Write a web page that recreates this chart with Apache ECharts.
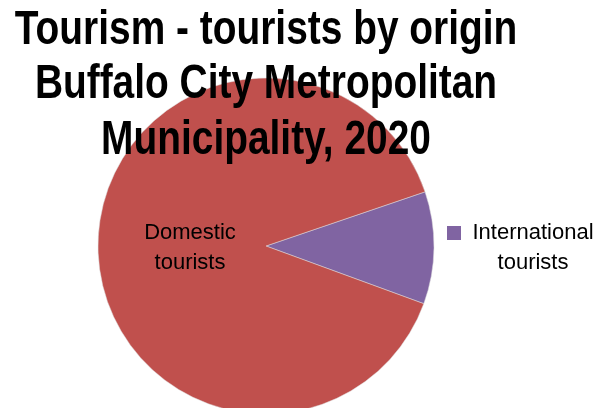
<!DOCTYPE html>
<html><head><meta charset="utf-8">
<script src="https://cdn.jsdelivr.net/npm/echarts@6/dist/echarts.min.js"></script>
<style>html,body{margin:0;padding:0;background:#fff}#c{width:597px;height:408px}</style>
</head><body><div id="c"></div>
<script>
const categories = ['International tourists', 'Domestic tourists'];
const values = [10.8, 89.2];
const colors = ['#8064A2', '#C0504D'];
const titleLines = ['Tourism - tourists by origin', 'Buffalo City Metropolitan', 'Municipality, 2020'];

const chart = echarts.init(document.getElementById('c'), null, {renderer: 'canvas'});
const font = '"Liberation Sans", Arial, sans-serif';
const titleY = [30.8, 85, 140.3];
chart.setOption({
  animation: false,
  graphic: titleLines.map((t, i) => ({
    type: 'text', x: 266, y: titleY[i], scaleX: 0.81, z: 10,
    style: {text: t, fontFamily: font, fontSize: 48, fontWeight: 'bold', fill: '#000', align: 'center', verticalAlign: 'middle'}
  })),
  legend: {
    data: [categories[0]],
    left: 442, top: 217, orient: 'vertical',
    itemWidth: 14, itemHeight: 14, icon: 'rect',
    itemStyle: {borderWidth: 0},
    formatter: function(){ return '{a|International}\n{a|tourists}'; },
    textStyle: {padding: [30, 0, 0, 0], rich: {a: {fontFamily: font, fontSize: 22, color: '#000', width: 134, align: 'center', lineHeight: 30}}}
  },
  series: [{
    type: 'pie',
    center: [266, 246], radius: 168,
    startAngle: 18.8, clockwise: true,
    z: 1,
    itemStyle: {borderColor: '#ddd', borderWidth: 0.5},
    label: {show: false},
    labelLine: {show: false},
    data: categories.map((c, i) => ({
      name: c, value: values[i],
      itemStyle: {color: colors[i]},
      label: i === 1 ? {show: true, position: 'inside', formatter: 'Domestic\ntourists', fontFamily: font, fontSize: 22, color: '#000', lineHeight: 30, offset: [11, 3]} : {show: false}
    }))
  }]
});
</script></body></html>
